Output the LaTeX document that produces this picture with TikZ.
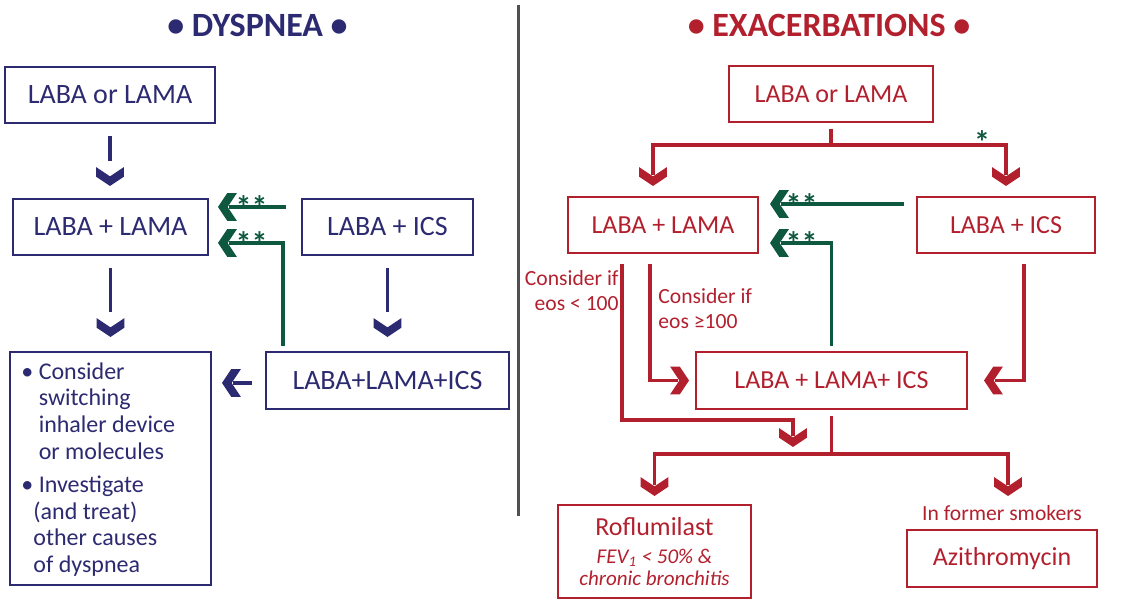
\documentclass[tikz,border=0pt]{standalone}
\usepackage{fontspec}
\setmainfont{Carlito}
\usepackage{tikz}
\usetikzlibrary{calc}

\definecolor{navyc}{RGB}{44,42,112}
\definecolor{redc}{RGB}{178,32,46}
\definecolor{grnc}{RGB}{14,88,64}
\definecolor{divc}{RGB}{80,80,80}

% thick chevron tips
\newcommand{\chevpath}{%
  \pgfpathmoveto{\pgfqpoint{0pt}{0pt}}
  \pgfpathlineto{\pgfqpoint{-4.6pt}{6.9pt}}
  \pgfpathlineto{\pgfqpoint{-9.4pt}{6.9pt}}
  \pgfpathlineto{\pgfqpoint{-4.8pt}{0pt}}
  \pgfpathlineto{\pgfqpoint{-9.4pt}{-6.9pt}}
  \pgfpathlineto{\pgfqpoint{-4.6pt}{-6.9pt}}
  \pgfpathclose
  \pgfusepathqfill}
\pgfdeclarearrow{
  name = chev,
  setup code = {
    \pgfarrowssettipend{0pt}
    \pgfarrowssetbackend{-9.4pt}
    \pgfarrowssetlineend{-5.5pt}
    \pgfarrowshullpoint{0pt}{0pt}
    \pgfarrowshullpoint{-9.4pt}{6.9pt}
    \pgfarrowshullpoint{-9.4pt}{-6.9pt}
  },
  drawing code = {\chevpath}
}
\pgfdeclarearrow{
  name = chevgap,
  setup code = {
    \pgfarrowssettipend{0pt}
    \pgfarrowssetbackend{-9.4pt}
    \pgfarrowssetlineend{-12.5pt}
    \pgfarrowshullpoint{0pt}{0pt}
    \pgfarrowshullpoint{-9.4pt}{6.9pt}
    \pgfarrowshullpoint{-9.4pt}{-6.9pt}
  },
  drawing code = {\chevpath}
}

\tikzset{
  font={\fontsize{14pt}{16}\selectfont},
  navbox/.style={draw=navyc, line width=1pt, text=navyc, inner sep=0pt},
  redbox/.style={draw=redc, line width=1pt, text=redc, inner sep=0pt,
    font=\fontsize{13pt}{15}\selectfont},
  navarr/.style={draw=navyc, line width=1.75pt, -chevgap},
  redline/.style={draw=redc, line width=1.75pt},
  redarr/.style={redline, -chev},
  grnarr/.style={draw=grnc, line width=1.75pt, -chev},
  stars/.style={text=grnc, inner sep=0pt, anchor=base, font=\bfseries\fontsize{16pt}{18}\selectfont},
  redlab/.style={text=redc, inner sep=0pt, font=\fontsize{10.8pt}{12.5}\selectfont},
  ttl/.style={inner sep=0pt, font=\bfseries\fontsize{17pt}{19}\selectfont}}
\newcommand{\smit}{\fontsize{10.5pt}{10}\selectfont\itshape}

\begin{document}
\begin{tikzpicture}[x=0.5pt, y=0.5pt]
\useasboundingbox (0,0) rectangle (1126,-603);

% titles and divider
\node[ttl, text=navyc] (tdys) at (257.5,-25) {\textbullet\ DYSPNEA \textbullet};
\node[ttl, text=redc] (texa) at (829,-25) {\textbullet\ EXACERBATIONS \textbullet};
\draw[divc, line width=1.5pt] (518,-5) -- (518,-516);

% dyspnea side
\node[navbox, minimum width=105pt, minimum height=28pt] (lo1) at (110,-95) {LABA or LAMA};
\node[navbox, minimum width=97.5pt, minimum height=28pt] (lm1) at (110.5,-227) {LABA + LAMA};
\node[navbox, minimum width=85.5pt, minimum height=28pt] (li1) at (387.5,-227) {LABA + ICS};
\node[navbox, minimum width=121.5pt, minimum height=28.5pt] (lt1) at (387.5,-380.5) {LABA+LAMA+ICS};
\node[navbox, minimum width=100.5pt, minimum height=116.5pt] (lbul) at (110.5,-468.5) {};
\node[text=navyc, inner sep=0pt, anchor=north west, align=left,
  font=\fontsize{12pt}{13.4}\selectfont] (lbtxt) at (21,-362)
  {\textbullet\ Consider\\
   \hphantom{\textbullet\ }switching\\
   \hphantom{\textbullet\ }inhaler device\\
   \hphantom{\textbullet\ }or molecules\\[3pt]
   \textbullet\ Investigate\\
   \hspace*{6pt}(and treat)\\
   \hspace*{6pt}other causes\\
   \hspace*{6pt}of dyspnea};

\draw[navarr, shorten <=6pt, shorten >=6pt] (lo1.south) -- (lo1.south |- lm1.north);
\draw[navarr, shorten <=6pt, shorten >=7pt] (lm1.south) -- (lm1.south |- lbul.north);
\draw[navarr, shorten <=6pt, shorten >=7pt] (li1.south) -- (li1.south |- lt1.north);
\draw[navarr, -chev, shorten <=6.5pt, shorten >=5pt] ([yshift=-1.25pt]lt1.west) -- ([yshift=-1.25pt]lt1.west -| lbul.east);

\draw[grnarr, shorten <=7.5pt, shorten >=4.5pt] ([yshift=10pt]li1.west) -- ([yshift=10pt]lm1.east);
\draw[grnarr, shorten <=2.5pt, shorten >=4.5pt] ($(lt1.north west)+(18,0)$) |- ([yshift=-8pt]lm1.east);
\node[stars] (ls1) at (251.5,-219) {**};
\node[stars] (ls2) at (251.5,-255) {**};

% exacerbations side
\node[redbox, minimum width=102pt, minimum height=28pt] (ro1) at (831,-94) {LABA or LAMA};
\node[redbox, minimum width=95pt, minimum height=28pt] (rm1) at (663,-225) {LABA + LAMA};
\node[redbox, minimum width=89pt, minimum height=28pt] (ri1) at (1006,-225) {LABA + ICS};
\node[redbox, minimum width=135.5pt, minimum height=28.5pt] (rt1) at (831.5,-380.5) {LABA + LAMA+ ICS};
\node[redbox, minimum width=96.5pt, minimum height=46.5pt, align=center] (rrof) at (654.5,-551.5)
  {Roflumilast\\[-1pt]
   \smit FEV\textsubscript{1} < 50\% \&\\[-4pt]
   \smit chronic bronchitis};
\node[redbox, minimum width=95pt, minimum height=28.5pt] (razi) at (1002,-558.5) {Azithromycin};
\node[redlab] (rsmk) at (1002,-513) {In former smokers};

\draw[redline, shorten <=3pt] (ro1.south) -- ++(0,-22) coordinate (rsplit);
\draw[redarr, shorten >=5pt] (rsplit) -| ([xshift=-5pt]rm1.north);
\draw[redarr, shorten >=5pt] (rsplit) -| (ri1.north);
\node[stars] (rs0) at (982,-154) {*};

\draw[grnarr, shorten <=6pt, shorten >=5.5pt] ([yshift=10.5pt]ri1.west) -- ([yshift=10.5pt]rm1.east);
\draw[grnarr, shorten <=2.5pt, shorten >=5.5pt] (rt1.north) |- ([yshift=-9pt]rm1.east);
\node[stars] (rs1) at (801.5,-217) {**};
\node[stars] (rs2) at (801.5,-255) {**};

\coordinate (rlow) at (793,-447);
\draw[redarr, shorten <=5pt] ([xshift=-20.5pt]rm1.south) -- ++(0,-166) -| (rlow);
\node[redlab, anchor=north east, align=right] (rlab1) at (619,-270) {Consider if\\eos < 100};
\draw[redarr, shorten <=5pt, shorten >=3pt] ([xshift=-6.5pt]rm1.south) |- (rt1.west);
\node[redlab, anchor=north west, align=left] (rlab2) at (658,-288) {Consider if\\eos ≥100};
\draw[redarr, shorten <=5pt, shorten >=8pt] ([xshift=9pt]ri1.south) |- (rt1.east);

\draw[redline, shorten <=3pt] (rt1.south) -- ++(0,-44) coordinate (rsplit2);
\draw[redarr, shorten >=4pt] (rsplit2) -| (rrof.north);
\draw[redarr, shorten >=16.5pt] (rsplit2) -| ([xshift=3pt]razi.north);
\end{tikzpicture}
\end{document}
